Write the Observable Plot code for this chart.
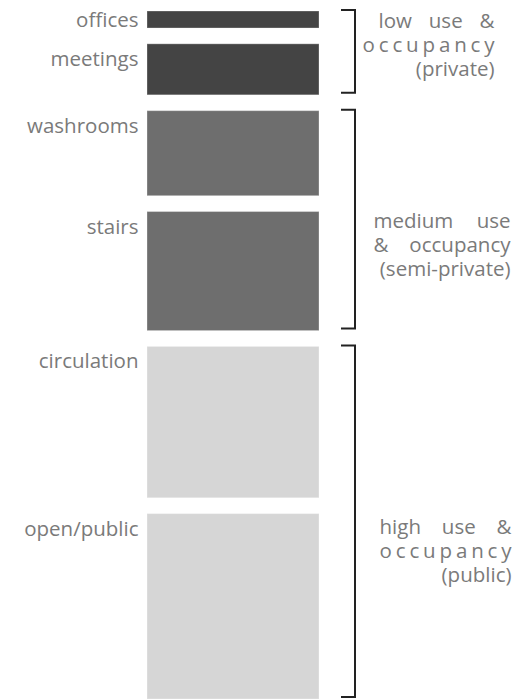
<!DOCTYPE html>
<html><head><meta charset="utf-8">
<script src="https://cdn.jsdelivr.net/npm/d3@7"></script>
<script src="https://cdn.jsdelivr.net/npm/@observablehq/plot@0.6"></script>
<style>html,body{margin:0;padding:0;background:#fff}#chart svg{display:block}</style>
</head><body><div id="chart"></div>
<script>
// ---- data ----
const spaces = ["offices", "meetings", "washrooms", "stairs", "circulation", "open/public"];
const amounts = [1, 3, 5, 7, 8.9, 10.9];
const spaceGroup = ["low", "low", "medium", "medium", "high", "high"];
const groupKeys = ["low", "medium", "high"];
const groupLabels = [
  "low use &\noccupancy\n(private)",
  "medium use\n& occupancy\n(semi-private)",
  "high use &\noccupancy\n(public)"
];
const groupColors = ["#444444", "#6e6e6e", "#d6d6d6"];

// ---- layout ----
const W = 519, H = 700;
const marginLeft = 147, marginRight = 200;
const gap = 0.93; // gap between bars, in value units
const textColor = "#7a7a7a";
const fontSize = 20.5;
const lineStep = 24;
const groupLayout = {
  low:    {frac: 0.40, right: 494, width: 116},
  medium: {frac: 0.61, right: 510, width: 137},
  high:   {frac: 0.58, right: 511, width: 132}
};

let acc = 0;
const rows = spaces.map((name, i) => {
  const y1 = acc, y2 = acc + amounts[i];
  acc = y2 + gap;
  return {name, value: amounts[i], group: spaceGroup[i], y1, y2};
});
const total = acc - gap;
const groups = groupKeys.map((key, i) => {
  const r = rows.filter(d => d.group === key);
  return {key, lines: groupLabels[i].split("\n"), y1: d3.min(r, d => d.y1), y2: d3.max(r, d => d.y2)};
});

function brackets(index, scales, values, dimensions) {
  const xr = dimensions.width - dimensions.marginRight + 36;
  const g = d3.create("svg:g").attr("aria-label", "brackets")
    .attr("fill", "none").attr("stroke", "#222").attr("stroke-width", 2);
  g.selectAll("path").data(groups).join("path")
    .attr("d", d => {
      const a = scales.y(d.y1) - 1, b = scales.y(d.y2) - 2;
      return `M${xr - 14},${a}H${xr}V${b}H${xr - 14}`;
    });
  return g.node();
}

// text lines to be justified (all but the last line of each group label) -> target width
const justify = new Map();
const lineMarks = [];
groups.forEach(g => {
  const lay = groupLayout[g.key];
  const mid = (g.lines.length - 1) / 2;
  g.lines.forEach((line, j) => {
    if (j < g.lines.length - 1) justify.set(line, lay.width);
    lineMarks.push(Plot.text([g], {
      y: d => d.y1 + lay.frac * (d.y2 - d.y1),
      text: () => line,
      frameAnchor: "right", textAnchor: "end",
      dx: lay.right - (W - marginRight), dy: (j - mid) * lineStep,
      lineAnchor: "middle", fill: textColor, fontSize
    }));
  });
});

const plot = Plot.plot({
  width: W, height: H,
  marginTop: 11, marginBottom: 1, marginLeft, marginRight,
  x: {type: "band", domain: ["space"], padding: 0, axis: null},
  y: {domain: [0, total], reverse: true, axis: null},
  color: {domain: groupKeys, range: groupColors},
  style: {fontFamily: "'Open Sans', sans-serif", fontSize: fontSize + "px", background: "#fff"},
  marks: [
    Plot.barY(rows, {x: () => "space", y1: "y1", y2: "y2", fill: "group",
      stroke: "#fff", strokeOpacity: 0.3, strokeWidth: 1}),
    Plot.text(rows, {y: d => d.y1 + Math.min(d.value / 2, 0.88), text: "name",
      frameAnchor: "left", textAnchor: "end", dx: -9, lineAnchor: "middle",
      fill: textColor, fontSize}),
    ...lineMarks,
    brackets
  ]
});

document.getElementById("chart").append(plot);

// justify: stretch word gaps, or letter gaps for single words
plot.querySelectorAll("text").forEach(t => {
  const w = justify.get(t.textContent);
  if (!w) return;
  const natural = t.getComputedTextLength();
  const nSpaces = (t.textContent.match(/ /g) || []).length;
  if (nSpaces > 0) {
    t.setAttribute("word-spacing", ((w - natural) / nSpaces).toFixed(2));
  } else {
    t.setAttribute("textLength", w);
    t.setAttribute("lengthAdjust", "spacing");
  }
});
</script>
</body></html>
